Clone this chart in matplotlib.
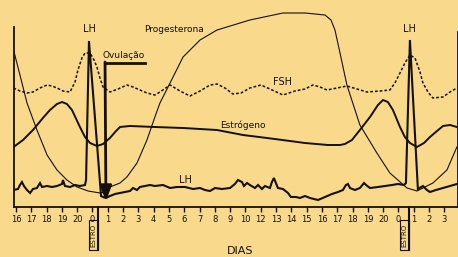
import numpy as np
import matplotlib
matplotlib.use('Agg')
import matplotlib.pyplot as plt
from matplotlib.patches import Rectangle

bg = '#f9d98b'
ink = '#141008'

# dias do ciclo (eixo x: posicao indexada, rotulos como no original)
dias = ['16', '17', '18', '19', '20', '0', '1', '2', '3', '4', '5', '6', '7', '8', '9',
        '10', '12', '13', '14', '15', '16', '17', '18', '19', '20', '0', '1', '2', '3']

# progesterona
prog_x = [-0.16, 0.26, 0.72, 1.37, 2.03, 2.68, 3.33, 3.99, 4.71, 5.49, 5.88, 6.14, 6.80, 7.25,
          7.91, 8.56, 9.08, 9.41, 10.07, 10.92, 12.03, 13.14, 15.29, 17.45, 18.89, 20.20, 20.59,
          20.85, 21.18, 21.63, 22.48, 23.59, 24.44, 25.56, 26.21, 27.25, 28.17, 28.82]
prog_y = [157, 132, 104, 77, 52, 37, 27, 20, 16, 14, 15, 20, 24, 30,
          44, 67, 90, 104, 124, 150, 167, 177, 187, 194, 194, 192, 187,
          177, 154, 122, 82, 54, 34, 19, 16, 24, 37, 60]

# estrogeno
estr_x = [-0.16, 0.46, 1.11, 1.76, 2.22, 2.68, 3.01, 3.33, 3.66, 4.18, 4.51, 4.84, 5.29, 5.69,
          6.14, 6.54, 6.80, 7.45, 9.08, 10.92, 13.14, 14.84, 16.41, 17.91, 18.89, 20.39, 21.18,
          21.50, 21.96, 22.48, 23.14, 23.66, 23.99, 24.31, 24.64, 25.10, 25.42, 25.75, 26.21,
          26.67, 27.06, 27.52, 27.91, 28.37, 28.82]
estr_y = [60, 67, 77, 89, 97, 103, 105, 103, 97, 80, 70, 64, 61, 63,
          69, 76, 80, 81, 80, 79, 77, 72, 69, 66, 64, 62, 62,
          63, 67, 77, 90, 102, 107, 105, 97, 80, 70, 64, 60,
          64, 70, 76, 81, 82, 80]

# FSH
fsh_x = [-0.16, 0.26, 0.72, 1.11, 1.57, 2.03, 2.35, 2.68, 3.07, 3.53, 3.86, 4.05, 4.31, 4.51,
         4.84, 5.10, 5.29, 5.49, 5.69, 6.14, 6.67, 7.25, 7.65, 8.10, 8.56, 9.08, 9.41, 10.07,
         10.72, 11.37, 12.03, 12.68, 13.14, 13.66, 14.18, 14.71, 15.29, 16.01, 16.60, 17.45,
         18.24, 18.89, 19.41, 19.87, 20.33, 20.98, 21.63, 22.29, 22.94, 23.79, 24.44, 24.77,
         25.10, 25.42, 25.75, 26.08, 26.41, 26.60, 26.93, 27.25, 27.91, 28.37, 28.82]
fsh_y = [119, 116, 114, 115, 119, 122, 121, 119, 116, 115, 125, 137, 149, 154,
         154, 147, 140, 129, 120, 115, 118, 122, 120, 117, 114, 112, 115, 122,
         116, 111, 116, 122, 123, 119, 113, 114, 119, 122, 118, 112,
         116, 118, 122, 120, 117, 119, 121, 118, 115, 116, 117, 124,
         134, 144, 152, 149, 135, 124, 115, 109, 110, 115, 119]

# LH
lh_x = [-0.16, 0.13, 0.26, 0.39, 0.52, 0.72, 0.92, 1.11, 1.37, 1.57, 1.70, 2.03, 2.35, 2.68,
        3.01, 3.07, 3.20, 3.53, 3.86, 4.18, 4.51, 4.58, 4.77, 5.56, 5.69, 5.88, 6.14, 6.47,
        6.80, 7.12, 7.45, 7.65, 7.91, 8.10, 8.43, 8.76, 9.08, 9.61, 10.07, 10.52, 11.05,
        11.57, 12.03, 12.35, 12.68, 13.01, 13.46, 13.99, 14.31, 14.51, 14.77, 14.90, 15.10,
        15.29, 15.62, 15.82, 16.08, 16.27, 16.60, 16.73, 16.86, 16.99, 17.12, 17.45, 17.78,
        17.97, 18.30, 18.56, 18.89, 19.22, 19.74, 20.20, 20.65, 21.05, 21.37, 21.57, 21.70,
        21.83, 22.16, 22.48, 22.75, 22.88, 23.14, 23.66, 24.12, 24.58, 24.97, 25.36, 25.49,
        25.75, 26.27, 26.60, 26.86, 27.06, 27.45, 27.91, 28.37, 28.82]
lh_y = [17, 18, 22, 25, 21, 17, 14, 18, 19, 24, 20, 21, 20, 21,
        23, 27, 21, 20, 22, 21, 22, 27, 166, 11, 10, 9, 11, 13,
        14, 15, 16, 19, 17, 20, 21, 22, 21, 22, 19, 20, 20,
        18, 19, 17, 16, 19, 18, 19, 23, 27, 25, 21, 24,
        22, 19, 22, 18, 21, 19, 25, 29, 24, 19, 18, 14,
        10, 10, 9, 11, 9, 7, 10, 13, 15, 17, 22, 23,
        19, 17, 19, 24, 22, 19, 20, 21, 22, 23, 22, 24,
        167, 18, 21, 17, 15, 17, 19, 21, 23]

plt.rcParams['font.family'] = ['DejaVu Sans']

fig = plt.figure(figsize=(4.58, 2.57), dpi=100, facecolor=bg)
ax = fig.add_axes([13.5 / 458, 50 / 257, 444 / 458, 207 / 257])
ax.set_facecolor(bg)

ax.plot(prog_x, prog_y, color=ink, lw=0.8)
ax.plot(estr_x, estr_y, color=ink, lw=1.4)
ax.plot(fsh_x, fsh_y, color=ink, lw=1.1, dashes=(1.8, 1.3))
ax.plot(lh_x, lh_y, color=ink, lw=1.5, solid_joinstyle='miter')

ax.set_xlim(-0.163, 28.86)
ax.set_ylim(0, 207)

ax.spines['top'].set_visible(False)
for s in ['left', 'right', 'bottom']:
    ax.spines[s].set_linewidth(1.3)
    ax.spines[s].set_color(ink)
ax.spines['left'].set_bounds(0, 180)
ax.spines['right'].set_bounds(0, 175)

ax.set_xticks(range(len(dias)))
ax.set_xticklabels(dias, fontsize=6, color=ink)
ax.tick_params(axis='x', direction='out', length=3.5, width=1, color=ink, pad=2.5)
ax.set_yticks([])

# ovulacao
ax.plot([5.82, 8.43], [144, 144], color=ink, lw=2)
ax.annotate('', xy=(5.88, 6), xytext=(5.82, 145),
            arrowprops=dict(arrowstyle='-|>,head_length=0.9,head_width=0.35',
                            color=ink, lw=2, shrinkA=0, shrinkB=0))

kw = dict(color=ink, ha='center', va='center')
ax.text(4.77, 178, 'LH', fontsize=7, **kw)
ax.text(25.75, 178, 'LH', fontsize=7, **kw)
ax.text(10.33, 178, 'Progesterona', fontsize=6.5, **kw)
ax.text(7.06, 151, 'Ovulação', fontsize=6.5, **kw)
ax.text(17.45, 125, 'FSH', fontsize=7, **kw)
ax.text(14.84, 82, 'Estrógeno', fontsize=6.5, **kw)
ax.text(11.05, 27, 'LH', fontsize=7, **kw)
ax.text(14.64, -49, 'DIAS', fontsize=8, color=ink, ha='center', va='bottom', clip_on=False)

# caixas "ESTRO"
for x0 in [4.77, 25.10]:
    ax.add_patch(Rectangle((x0, -43), 0.62, 30, facecolor=bg, edgecolor=ink,
                           lw=0.8, clip_on=False))
    ax.plot([x0 + 0.62, x0 + 0.62], [0, -43], color=ink, lw=1.5, clip_on=False)
    ax.text(x0 + 0.31, -28, 'ESTRO', fontsize=5, rotation=90, clip_on=False, **kw)

fig.savefig('out.png', dpi=100, facecolor=bg)
